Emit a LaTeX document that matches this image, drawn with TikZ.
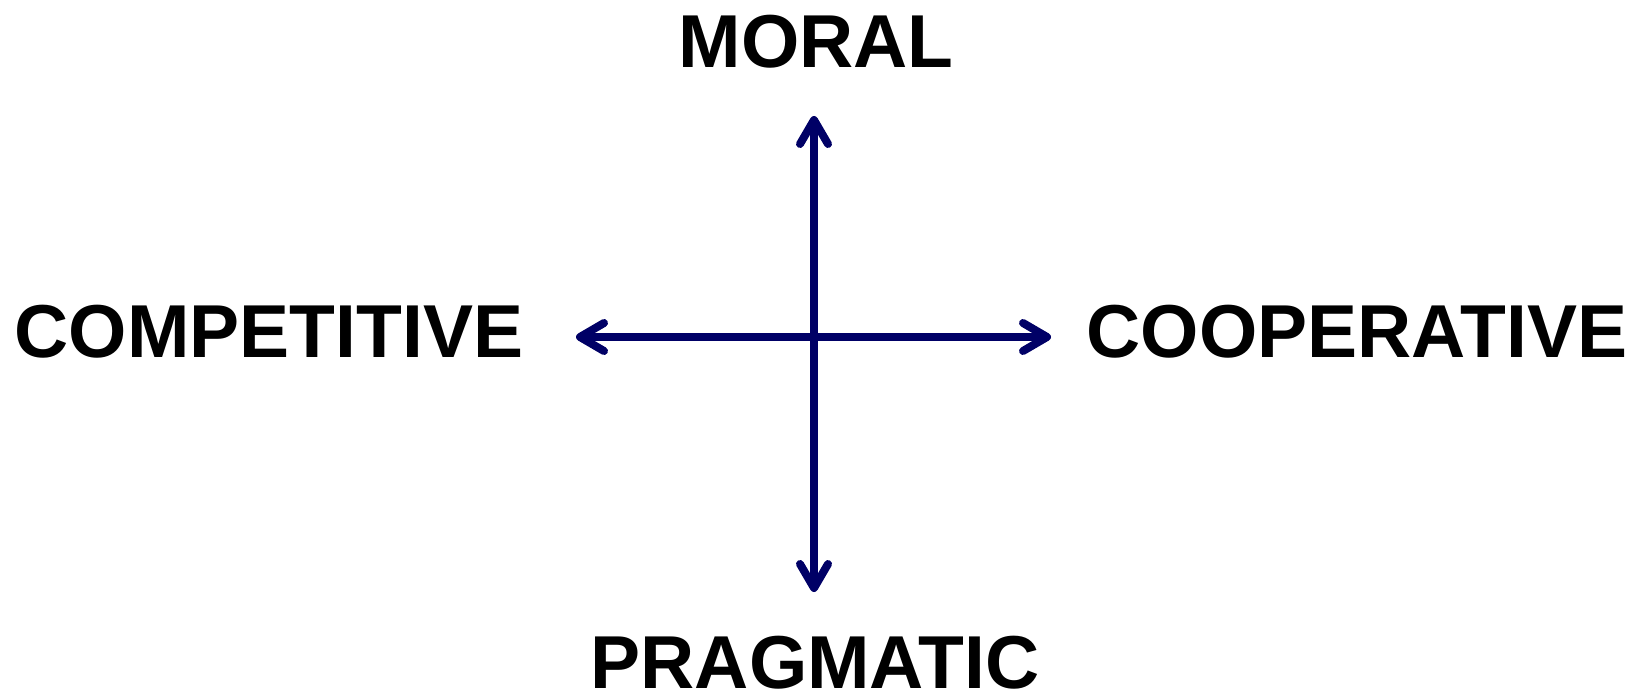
\documentclass[tikz,border=0pt]{standalone}
\usepackage{fontspec}
\setmainfont{Liberation Sans}
\usepackage{tikz}
\usetikzlibrary{arrows.meta}
\definecolor{AxisBlue}{RGB}{0,0,102}

\begin{document}
\begin{tikzpicture}[
  x=1pt, y=-1pt,
  pole/.style={font=\fontsize{75}{80}\selectfont\bfseries, anchor=base, inner sep=0pt},
  arrowline/.style={line width=8pt, draw=AxisBlue,
    {Straight Barb[length=24pt, width=28pt, round]}-{Straight Barb[length=24pt, width=28pt, round]}},
]
\useasboundingbox (0,0) rectangle (1640,695);
% end points of the two axes
\coordinate (up) at (814,116);
\coordinate (down) at (814,592);
\coordinate (left) at (576,337);
\coordinate (right) at (1051,337);

\node[pole] (mor) at (816,68) {MORAL};
\node[pole] (pra) at (815,688) {PRAGMATIC};
\node[pole] (com) at (269,357) {COMPETITIVE};
\node[pole] (coo) at (1357,357) {COOPERATIVE};

\draw[arrowline] (down) -- (up);
\draw[arrowline] (left) -- (right);
\end{tikzpicture}
\end{document}
